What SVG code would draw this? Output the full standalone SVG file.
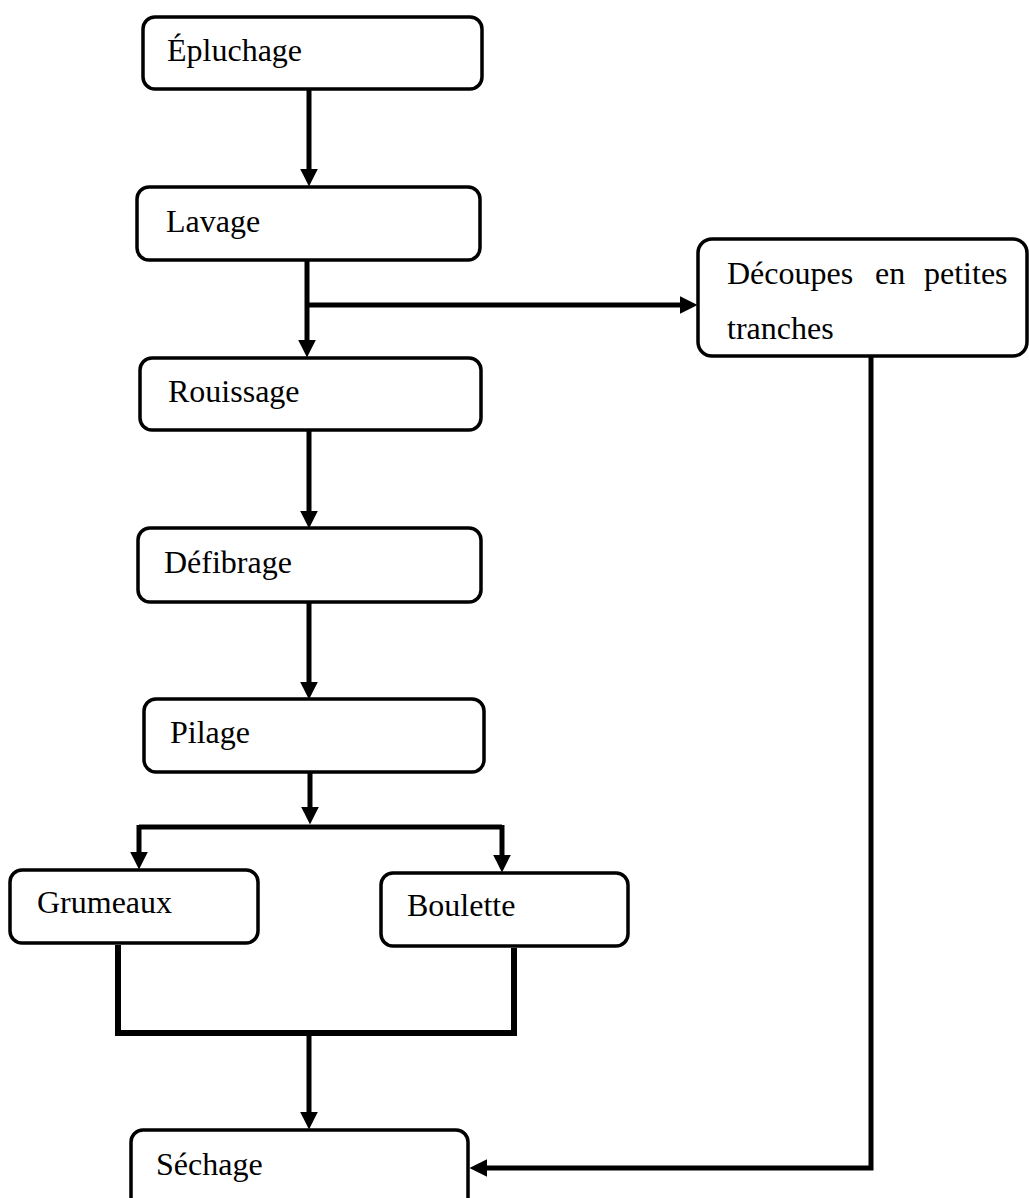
<svg xmlns="http://www.w3.org/2000/svg" width="1029" height="1198" viewBox="0 0 1029 1198">
<style>
.box{fill:#fff;stroke:#000;stroke-width:3.5}
.lbl{font-family:"Liberation Serif","Times New Roman",serif;font-size:32px;fill:#000}
.c{fill:none;stroke:#000;stroke-width:5}
</style>
<defs>
<marker id="ah" markerUnits="userSpaceOnUse" markerWidth="18" markerHeight="18" viewBox="0 0 17 17" refX="7" refY="8.5" orient="auto">
<path d="M0,0 L17,8.5 L0,17 z" fill="#000"/>
</marker>
</defs>
<rect width="1029" height="1198" fill="#fff"/>
<g id="connectors">
<path class="c" d="M309,89 V176" marker-end="url(#ah)"/>
<path class="c" d="M307,260 V347" marker-end="url(#ah)"/>
<path class="c" d="M307,305 H687" marker-end="url(#ah)"/>
<path class="c" d="M309,430 V518" marker-end="url(#ah)"/>
<path class="c" d="M309,602 V689" marker-end="url(#ah)"/>
<path class="c" d="M310,772 V814" marker-end="url(#ah)"/>
<path class="c" d="M139,827 H502"/>
<path class="c" d="M139,825 V859" marker-end="url(#ah)"/>
<path class="c" d="M502,825 V862" marker-end="url(#ah)"/>
<path class="c" style="stroke-width:6" d="M118,945 V1033 H514 V948"/>
<path class="c" d="M309,1033 V1119" marker-end="url(#ah)"/>
<path class="c" d="M871,356 V1168 H480" marker-end="url(#ah)"/>
</g>
<g id="epluchage"><rect class="box" x="143" y="17" width="339" height="72" rx="12"/><text class="lbl" x="167" y="61">Épluchage</text></g>
<g id="lavage"><rect class="box" x="137" y="187" width="343" height="73" rx="12"/><text class="lbl" x="166" y="232">Lavage</text></g>
<g id="decoupes"><rect class="box" x="698" y="239" width="329" height="117" rx="14"/><text class="lbl" y="284"><tspan x="727">Découpes</tspan><tspan x="875">en</tspan><tspan x="924">petites</tspan></text><text class="lbl" x="727" y="339">tranches</text></g>
<g id="rouissage"><rect class="box" x="140" y="358" width="341" height="72" rx="12"/><text class="lbl" x="168" y="402">Rouissage</text></g>
<g id="defibrage"><rect class="box" x="138" y="528" width="343" height="74" rx="12"/><text class="lbl" x="164" y="573">Défibrage</text></g>
<g id="pilage"><rect class="box" x="144" y="699" width="340" height="73" rx="12"/><text class="lbl" x="170" y="743">Pilage</text></g>
<g id="grumeaux"><rect class="box" x="10" y="870" width="248" height="73" rx="12"/><text class="lbl" x="37" y="913">Grumeaux</text></g>
<g id="boulette"><rect class="box" x="381" y="873" width="247" height="73" rx="12"/><text class="lbl" x="407" y="916">Boulette</text></g>
<g id="sechage"><rect class="box" x="131" y="1130" width="337" height="80" rx="12"/><text class="lbl" x="156" y="1175">Séchage</text></g>
</svg>
